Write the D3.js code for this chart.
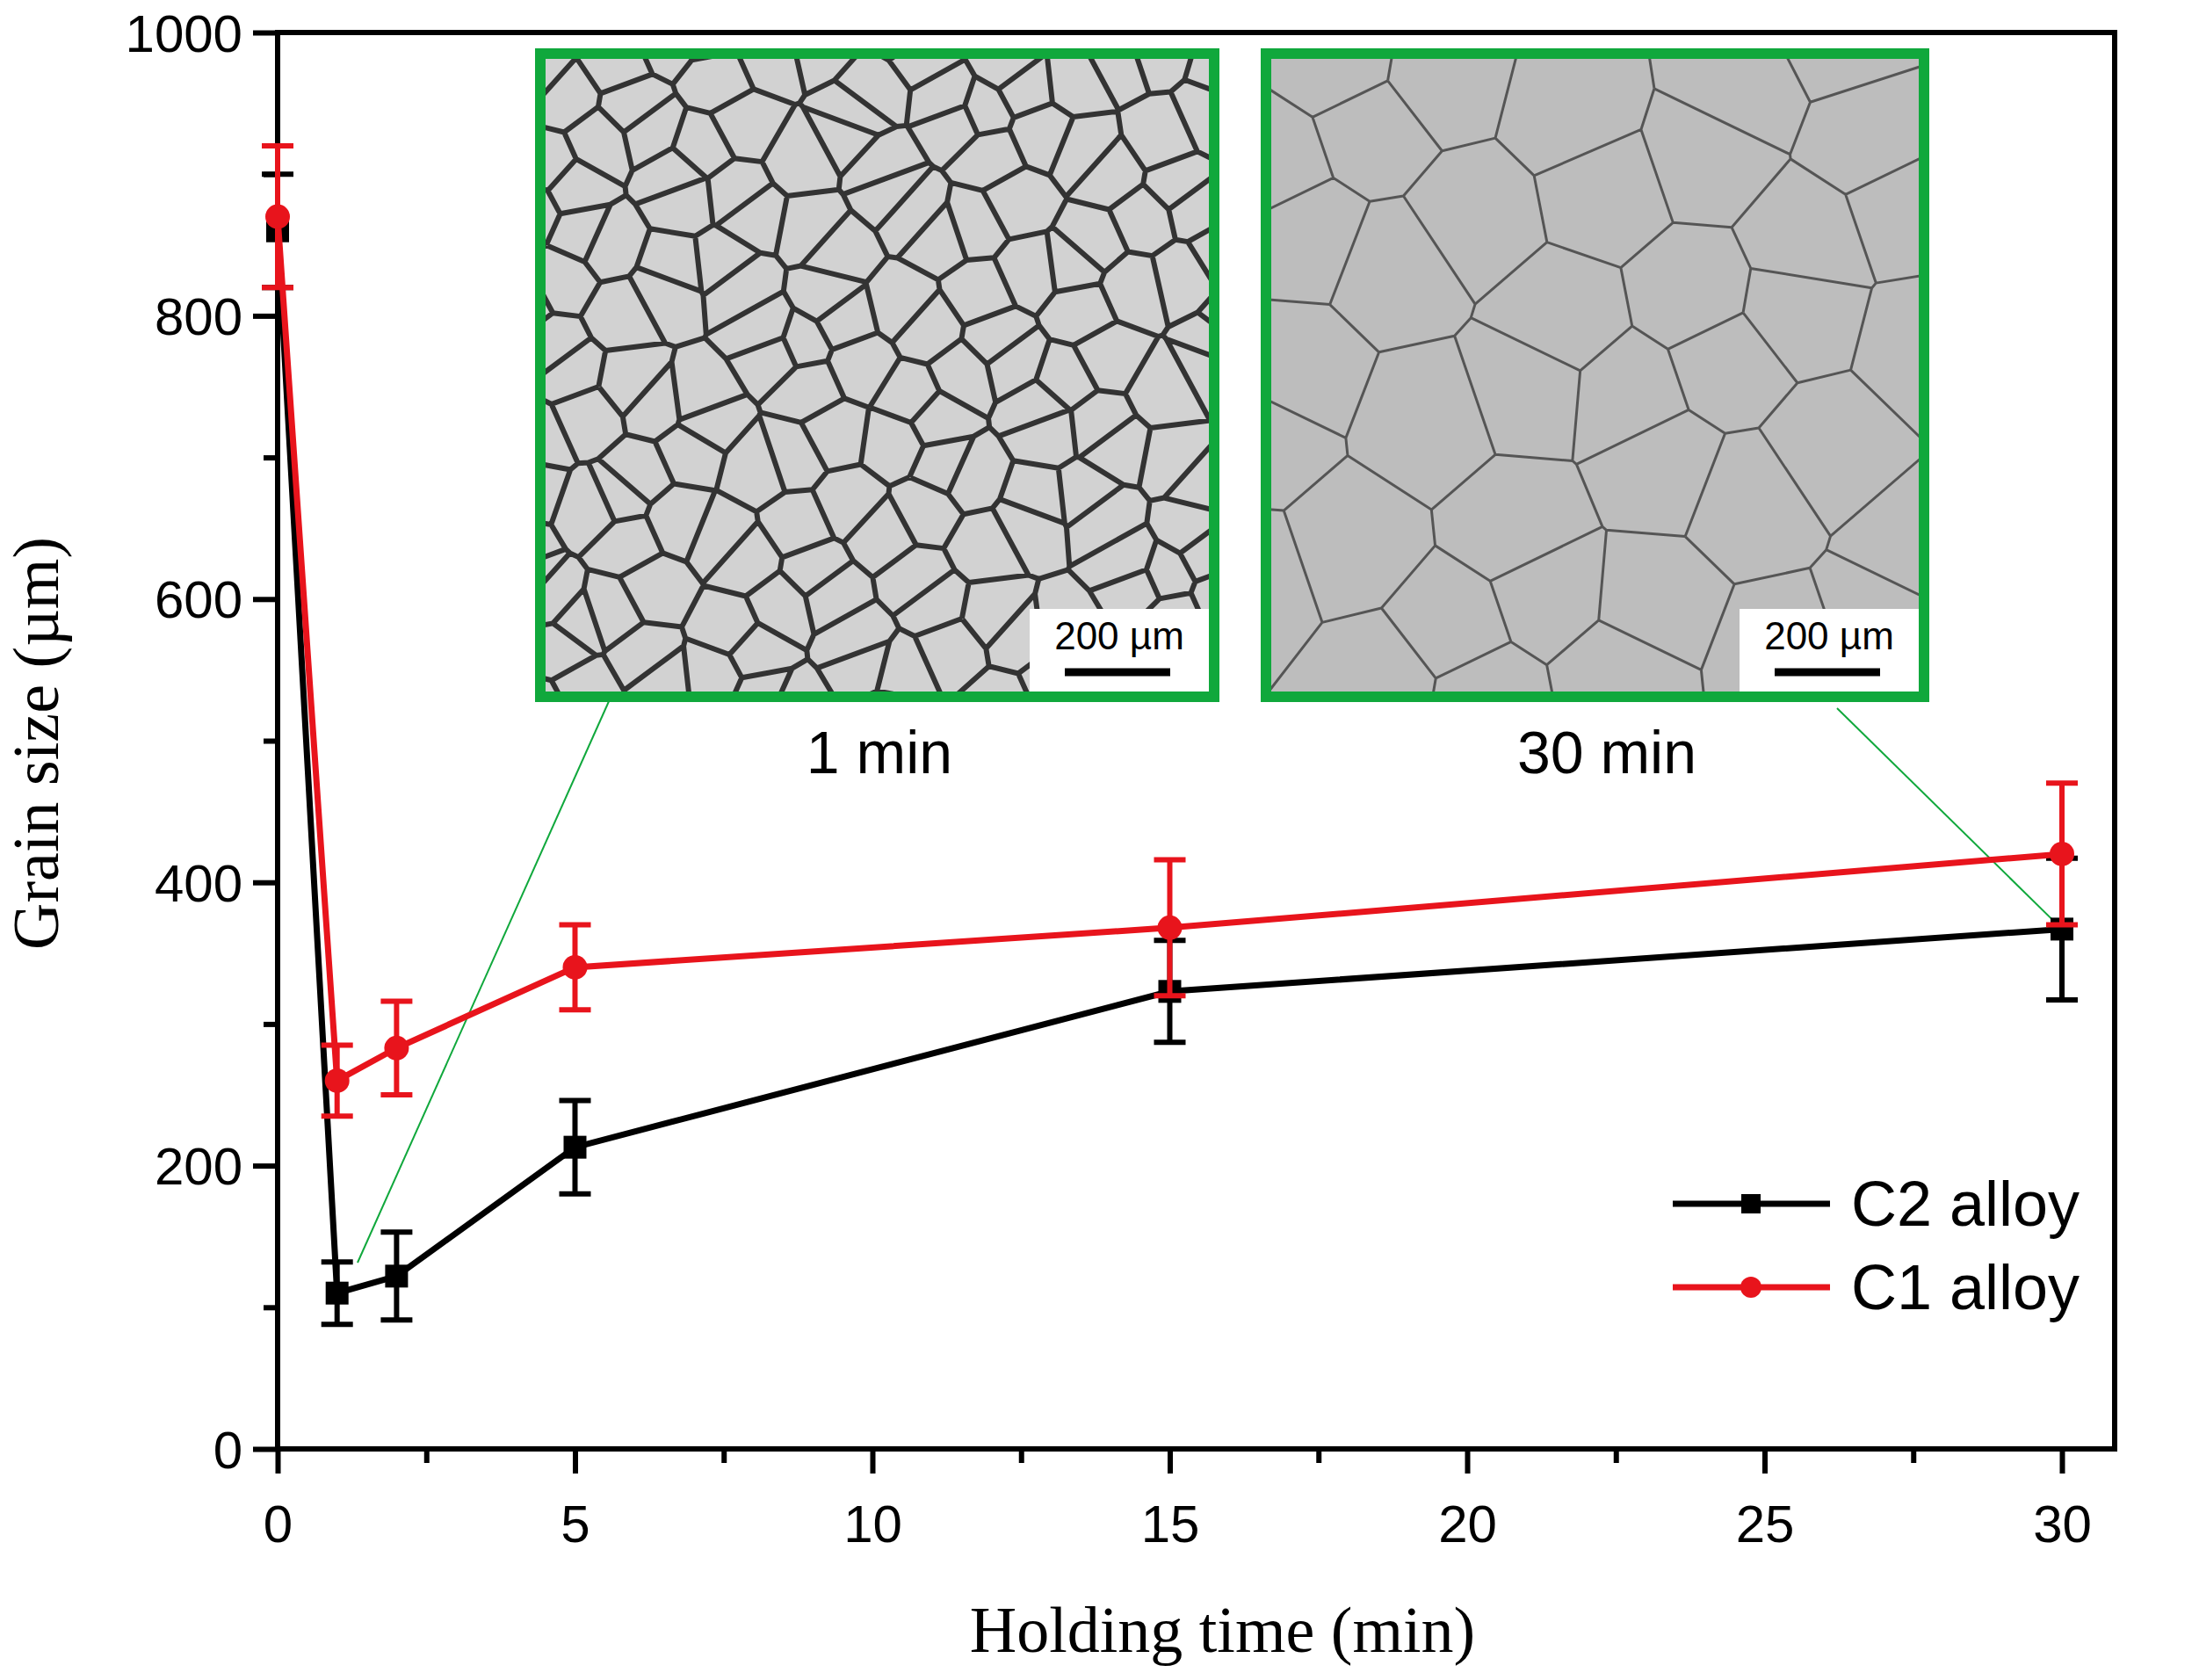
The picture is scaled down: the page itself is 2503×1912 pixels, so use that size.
<!DOCTYPE html>
<html><head><meta charset="utf-8">
<script src="https://cdn.jsdelivr.net/npm/d3@7"></script>
<style>body{margin:0;background:#fff}</style></head>
<body><svg id="c" width="2503" height="1912"></svg>
<script>
const times=[0,1,2,5,15,30];
const c2=[860,110,122,213,323,367];
const c2Err=[40,22,31,33,36,50];
const c1=[870,260,283,340,368,420];
const c1Err=[50,25,33,30,48,50];
const xTicks=[0,5,10,15,20,25,30];
const yTicks=[0,200,400,600,800,1000];

const svg=d3.select("#c");
const L=316,R=2407,T=37,B=1649;
const x=d3.scaleLinear().domain([0,30]).range([L,2347]);
const y=d3.scaleLinear().domain([0,1000]).range([B,T]);

svg.append("rect").attr("x",L).attr("y",T).attr("width",R-L).attr("height",B-T).attr("fill","none").attr("stroke","#000").attr("stroke-width",6);

function halton(i,b){let f=1,r=0;while(i>0){f/=b;r+=f*(i%b);i=Math.floor(i/b);}return r;}
function inset(x0,y0,w,h,off,n,bg,edge,ew){
  const g=svg.append("g");
  const cid="clip"+off;
  g.append("clipPath").attr("id",cid).append("rect").attr("x",x0).attr("y",y0).attr("width",w).attr("height",h);
  g.append("rect").attr("x",x0).attr("y",y0).attr("width",w).attr("height",h).attr("fill",bg);
  const pts=[];
  for(let i=1;i<=n;i++){const a=halton(i+off,2),b=halton(i+off,3);pts.push([x0-30+a*(w+60),y0-30+b*(h+60)]);}
  const vor=d3.Delaunay.from(pts).voronoi([x0-40,y0-40,x0+w+40,y0+h+40]);
  g.append("path").attr("d",vor.render()).attr("clip-path",`url(#${cid})`).attr("fill","none").attr("stroke",edge).attr("stroke-width",ew).attr("stroke-linejoin","round");
  g.append("rect").attr("x",x0).attr("y",y0).attr("width",w).attr("height",h).attr("fill","none").attr("stroke","#10a83c").attr("stroke-width",12);
  const bx=x0+w-210,by=y0+h-100;
  g.append("rect").attr("x",bx).attr("y",by).attr("width",204).attr("height",94).attr("fill","#fff");
  g.append("text").attr("x",bx+102).attr("y",by+46).attr("text-anchor","middle").attr("font-family","Liberation Sans, Arial").attr("font-size",44).text("200 µm");
  g.append("line").attr("x1",bx+40).attr("x2",bx+160).attr("y1",by+72).attr("y2",by+72).attr("stroke","#000").attr("stroke-width",9);
}
inset(615,61,767,732,7,170,"#d2d2d2","#333",6);
inset(1441,61,749,732,11,40,"#bdbdbd","#555",3);
svg.append("text").attr("x",1001).attr("y",880).attr("text-anchor","middle").attr("font-family","Liberation Sans, Arial").attr("font-size",68).text("1 min");
svg.append("text").attr("x",1829).attr("y",880).attr("text-anchor","middle").attr("font-family","Liberation Sans, Arial").attr("font-size",68).text("30 min");
svg.append("line").attr("x1",694).attr("y1",796).attr("x2",407).attr("y2",1437).attr("stroke","#10a83c").attr("stroke-width",2);
svg.append("line").attr("x1",2091).attr("y1",806).attr("x2",x(30)).attr("y2",y(367)).attr("stroke","#10a83c").attr("stroke-width",2);

const fmt=d3.format("d");
const xa=svg.append("g").attr("transform",`translate(0,${B})`).call(d3.axisBottom(x).tickValues(xTicks).tickFormat(fmt).tickSize(28).tickSizeOuter(0));
const xm=svg.append("g").attr("transform",`translate(0,${B})`).call(d3.axisBottom(x).tickValues(d3.range(2.5,30,5)).tickSize(16).tickFormat("").tickSizeOuter(0));
const ya=svg.append("g").attr("transform",`translate(${L},0)`).call(d3.axisLeft(y).tickValues(yTicks).tickFormat(fmt).tickSize(28).tickSizeOuter(0));
const ym=svg.append("g").attr("transform",`translate(${L},0)`).call(d3.axisLeft(y).tickValues(d3.range(100,1000,200)).tickSize(16).tickFormat("").tickSizeOuter(0));
[xa,xm,ya,ym].forEach(a=>{a.select(".domain").remove();a.selectAll("line").attr("stroke-width",6);a.selectAll("text").attr("font-family","Liberation Sans, Arial").attr("font-size",60).attr("fill","#000");});
xa.selectAll("text").attr("dy","1.25em");
ya.selectAll("text").attr("dx","-0.15em").attr("dy","0.35em");

svg.append("text").attr("x",(L+R)/2+30).attr("y",1880).attr("text-anchor","middle").attr("font-family","Liberation Serif, Times New Roman").attr("font-size",74).text("Holding time (min)");
svg.append("text").attr("transform","translate(66,846) rotate(-90)").attr("text-anchor","middle").attr("font-family","Liberation Serif, Times New Roman").attr("font-size",74).text("Grain size (µm)");

function series(vals,errs,col,shape){
  const d=times.map((t,i)=>({t,v:vals[i],e:errs[i]}));
  const g=svg.append("g");
  g.append("path").datum(d).attr("d",d3.line().x(p=>x(p.t)).y(p=>y(p.v))).attr("fill","none").attr("stroke",col).attr("stroke-width",7);
  d.forEach(p=>{
    const cx=x(p.t);
    g.append("line").attr("x1",cx).attr("x2",cx).attr("y1",y(p.v-p.e)).attr("y2",y(p.v+p.e)).attr("stroke",col).attr("stroke-width",6);
    [p.v-p.e,p.v+p.e].forEach(v=>g.append("line").attr("x1",cx-18).attr("x2",cx+18).attr("y1",y(v)).attr("y2",y(v)).attr("stroke",col).attr("stroke-width",6));
    if(shape==="sq")g.append("rect").attr("x",cx-13).attr("y",y(p.v)-13).attr("width",26).attr("height",26).attr("fill",col);
    else g.append("circle").attr("cx",cx).attr("cy",y(p.v)).attr("r",14).attr("fill",col);
  });
}
series(c2,c2Err,"#000","sq");
series(c1,c1Err,"#e8141c","ci");

const leg=[["C2 alloy","#000","sq",1370],["C1 alloy","#e8141c","ci",1465]];
leg.forEach(([t,col,sh,ly])=>{
  svg.append("line").attr("x1",1904).attr("x2",2083).attr("y1",ly).attr("y2",ly).attr("stroke",col).attr("stroke-width",7);
  if(sh==="sq")svg.append("rect").attr("x",1982).attr("y",ly-11).attr("width",22).attr("height",22).attr("fill",col);
  else svg.append("circle").attr("cx",1993).attr("cy",ly).attr("r",12).attr("fill",col);
  svg.append("text").attr("x",2107).attr("y",ly+25).attr("font-family","Liberation Sans, Arial").attr("font-size",72).text(t);
});
</script></body></html>
